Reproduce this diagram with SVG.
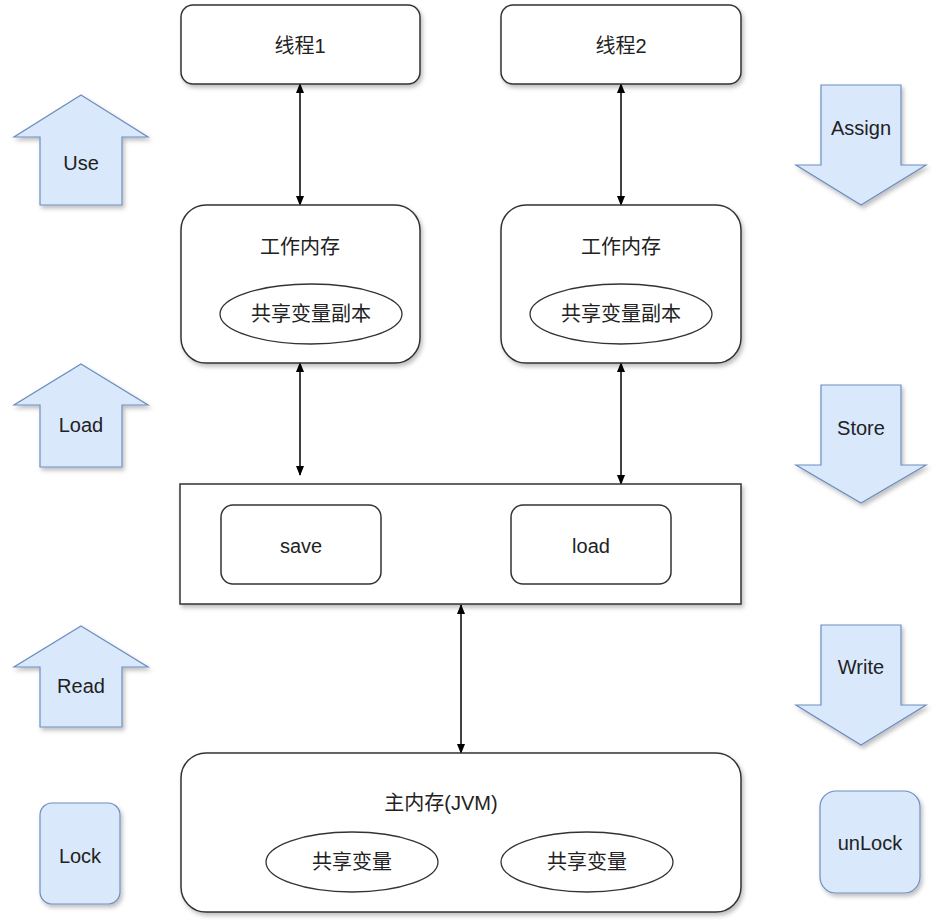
<svg xmlns="http://www.w3.org/2000/svg" width="936" height="924" viewBox="0 0 936 924">
<defs>
<filter id="sh" x="-10%" y="-10%" width="130%" height="130%">
<feDropShadow dx="2" dy="3" stdDeviation="2" flood-color="#000" flood-opacity="0.25"/>
</filter>
<marker id="ah" viewBox="0 0 10 10" refX="9" refY="5" markerWidth="10" markerHeight="10" markerUnits="userSpaceOnUse" orient="auto-start-reverse">
<path d="M0,1 L10,5 L0,9 Z" fill="#000"/>
</marker>
</defs>
<style>
text{font-family:"Liberation Sans","Noto Sans CJK SC",sans-serif;font-size:20px;fill:#222;text-anchor:middle;dominant-baseline:central}
.box{fill:#fff;stroke:#333;stroke-width:1.5}
.blue{fill:#dae8fc;stroke:#6c8ebf;stroke-width:1.2}
.ell{fill:#fff;stroke:#333;stroke-width:1.3}
.con{stroke:#000;stroke-width:1.5;fill:none}
</style>
<g id="connectors">
<line class="con" x1="300" y1="84" x2="300" y2="205" marker-start="url(#ah)" marker-end="url(#ah)"/>
<line class="con" x1="621" y1="84" x2="621" y2="205" marker-start="url(#ah)" marker-end="url(#ah)"/>
<line class="con" x1="300" y1="363" x2="300" y2="475" marker-start="url(#ah)" marker-end="url(#ah)"/>
<line class="con" x1="621" y1="363" x2="621" y2="484" marker-start="url(#ah)" marker-end="url(#ah)"/>
<line class="con" x1="461" y1="605" x2="461" y2="753" marker-start="url(#ah)" marker-end="url(#ah)"/>
</g>
<g id="thread1"><rect class="box" filter="url(#sh)" x="181" y="5" width="239" height="79" rx="12"/><text x="300" y="46">线程1</text></g>
<g id="thread2"><rect class="box" filter="url(#sh)" x="501" y="5" width="240" height="79" rx="12"/><text x="621" y="46">线程2</text></g>
<g id="wm1"><rect class="box" filter="url(#sh)" x="181" y="205" width="239" height="158" rx="25"/><text x="300" y="247">工作内存</text>
<ellipse class="ell" cx="311" cy="314" rx="91" ry="30"/><text x="311" y="314">共享变量副本</text></g>
<g id="wm2"><rect class="box" filter="url(#sh)" x="501" y="205" width="240" height="158" rx="25"/><text x="621" y="247">工作内存</text>
<ellipse class="ell" cx="621" cy="314" rx="91" ry="30"/><text x="621" y="314">共享变量副本</text></g>
<g id="middle"><rect class="box" filter="url(#sh)" x="180" y="484" width="561" height="120"/>
<rect class="box" x="221" y="505" width="160" height="79" rx="12"/><text x="301" y="546">save</text>
<rect class="box" x="511" y="505" width="160" height="79" rx="12"/><text x="591" y="546">load</text></g>
<g id="main"><rect class="box" filter="url(#sh)" x="181" y="753" width="560" height="159" rx="25"/><text x="441" y="803">主内存(JVM)</text>
<ellipse class="ell" cx="352" cy="862" rx="86" ry="30"/><text x="352" y="862">共享变量</text>
<ellipse class="ell" cx="587" cy="862" rx="86" ry="30"/><text x="587" y="862">共享变量</text></g>
<g id="use"><path class="blue" filter="url(#sh)" d="M81,95 L148,137 L122,137 L122,205 L40,205 L40,137 L14,137 Z"/><text x="81" y="163">Use</text></g>
<g id="loadArrow"><path class="blue" filter="url(#sh)" d="M81,364 L148,405 L122,405 L122,467 L40,467 L40,405 L14,405 Z"/><text x="81" y="425">Load</text></g>
<g id="read"><path class="blue" filter="url(#sh)" d="M81,626 L148,667 L122,667 L122,727 L40,727 L40,667 L14,667 Z"/><text x="81" y="686">Read</text></g>
<g id="lock"><rect class="blue" filter="url(#sh)" x="40" y="803" width="80" height="101" rx="12"/><text x="80" y="856">Lock</text></g>
<g id="assign"><path class="blue" filter="url(#sh)" d="M821,85 L901,85 L901,165 L926,165 L861,205 L796,165 L821,165 Z"/><text x="861" y="128">Assign</text></g>
<g id="store"><path class="blue" filter="url(#sh)" d="M821,385 L901,385 L901,465 L926,465 L861,503 L796,465 L821,465 Z"/><text x="861" y="428">Store</text></g>
<g id="write"><path class="blue" filter="url(#sh)" d="M821,625 L901,625 L901,705 L926,705 L861,745 L796,705 L821,705 Z"/><text x="861" y="667">Write</text></g>
<g id="unlock"><rect class="blue" filter="url(#sh)" x="820" y="791" width="100" height="102" rx="16"/><text x="870" y="843">unLock</text></g>
</svg>
